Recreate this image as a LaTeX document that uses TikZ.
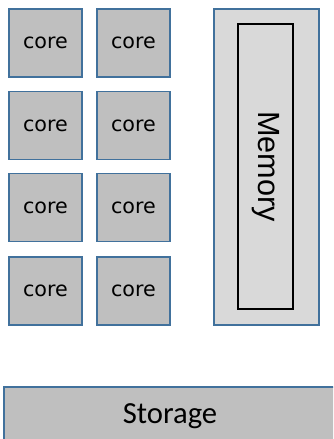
\documentclass[tikz,border=0pt]{standalone}
\usepackage{fontspec}
\usepackage{tikz}
\newfontfamily\corefont{DejaVu Sans}
\newfontfamily\memfont{Liberation Sans}
\newfontfamily\storefont{Carlito}
\definecolor{boxline}{HTML}{41719C}
\definecolor{darkgray}{HTML}{BFBFBF}
\definecolor{lightgray}{HTML}{D9D9D9}

\begin{document}
\begin{tikzpicture}[x=0.75pt,y=-0.75pt,
	corebox/.style={draw=boxline,line width=0.9pt,fill=darkgray,inner sep=0pt,outer sep=0pt,
		minimum width=54.75pt,minimum height=51pt,font=\corefont\fontsize{15.5}{18}\selectfont},
	membox/.style={draw=boxline,line width=0.9pt,fill=lightgray,inner sep=0pt,
		minimum width=78.75pt,minimum height=237pt},
	bankbox/.style={draw=black,line width=0.8pt,inner sep=0pt,
		minimum width=41.25pt,minimum height=213.75pt},
	storebox/.style={draw=boxline,line width=0.9pt,fill=darkgray}]
	\useasboundingbox (0,0) rectangle (333,439);

	% cores, two columns
	\node[corebox] (c11) at (45.5,43) {core};
	\node[corebox] (c12) at (133.5,43) {core};
	\node[corebox] (c21) at (45.5,125.5) {core};
	\node[corebox] (c22) at (133.5,125.5) {core};
	\node[corebox] (c31) at (45.5,207.5) {core};
	\node[corebox] (c32) at (133.5,207.5) {core};
	\node[corebox] (c41) at (45.5,291) {core};
	\node[corebox] (c42) at (133.5,291) {core};

	% memory
	\node[membox] (mem) at (266.5,167) {};
	\node[bankbox,font=\memfont\fontsize{23}{27}\selectfont] (bank) at (265.5,166.5)
		{\rotatebox{-90}{Memory}};

	% storage, runs off the page at the right and bottom
	\clip (0,0) rectangle (333,439);
	\draw[storebox] (4,387) rectangle (345,450);
	\node[font=\storefont\fontsize{23}{27}\selectfont] (store) at (170,416) {Storage};
\end{tikzpicture}
\end{document}
